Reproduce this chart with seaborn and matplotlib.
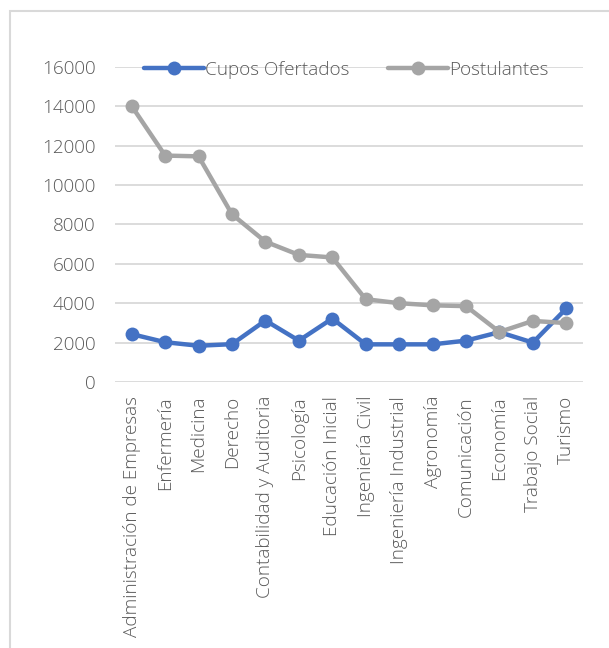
import pandas as pd
import seaborn as sns
import matplotlib.pyplot as plt
from matplotlib.patches import Rectangle

CARRERAS = [
    "Administración de Empresas", "Enfermería", "Medicina", "Derecho",
    "Contabilidad y Auditoria", "Psicología", "Educación Inicial",
    "Ingeniería Civil", "Ingeniería Industrial", "Agronomía",
    "Comunicación", "Economía", "Trabajo Social", "Turismo",
]
CUPOS = [2430, 2020, 1840, 1920, 3120, 2100, 3220, 1910, 1910, 1910, 2100, 2530, 2000, 3730]
POSTULANTES = [14000, 11490, 11450, 8510, 7120, 6450, 6320, 4200, 4000, 3890, 3850, 2540, 3100, 2990]

BLUE = "#4472C4"
GRAY = "#A5A5A5"
TEXT = "#595959"
GRID = "#D9D9D9"
FS = 13.6


def main():
    df = pd.DataFrame({"carrera": CARRERAS, "cupos": CUPOS, "postulantes": POSTULANTES})

    sns.set_theme(style="white")
    plt.rcParams["font.family"] = ["Open Sans", "DejaVu Sans"]
    plt.rcParams["font.weight"] = "light"

    fig = plt.figure(figsize=(6.09, 6.48), dpi=100)
    ax = fig.add_axes([115 / 609, 1 - 382 / 648, 468 / 609, (382 - 66.7) / 648])

    sns.lineplot(data=df, x="carrera", y="cupos", sort=False, color=BLUE,
                 linewidth=3.2, marker="o", markersize=10, markeredgewidth=0,
                 label="Cupos Ofertados", ax=ax)
    sns.lineplot(data=df, x="carrera", y="postulantes", sort=False, color=GRAY,
                 linewidth=3.2, marker="o", markersize=10, markeredgewidth=0,
                 label="Postulantes", ax=ax)

    ax.set_ylim(0, 16000)
    ax.set_yticks(range(0, 16001, 2000))
    ax.set_xlim(-0.5, len(CARRERAS) - 0.5)
    ax.set_xlabel("")
    ax.set_ylabel("")
    ax.grid(axis="y", color=GRID, linewidth=1.3)
    ax.grid(axis="x", visible=False)
    ax.set_axisbelow(True)
    for side in ("top", "right", "bottom", "left"):
        ax.spines[side].set_visible(False)
    ax.tick_params(axis="y", length=0, pad=14, labelsize=FS, labelcolor=TEXT)
    ax.tick_params(axis="x", length=0, pad=10, labelsize=FS, labelcolor=TEXT)
    plt.setp(ax.get_xticklabels(), rotation=90, va="top", ha="center")

    leg = ax.legend(loc="center", bbox_to_anchor=(0.494, 0.99), ncol=2, frameon=False,
                    fontsize=FS, handlelength=3.2, handletextpad=0.05, columnspacing=2.0,
                    borderaxespad=0)
    for t in leg.get_texts():
        t.set_color(TEXT)

    # chart area border (only left and top edges visible in the crop)
    fig.add_artist(Rectangle((9.5 / 609, -0.05), 1.2, 1 - 10.5 / 648 + 0.05,
                             transform=fig.transFigure, fill=False,
                             edgecolor=GRID, linewidth=1.5))

    fig.savefig("out.png", dpi=100)


if __name__ == "__main__":
    main()
